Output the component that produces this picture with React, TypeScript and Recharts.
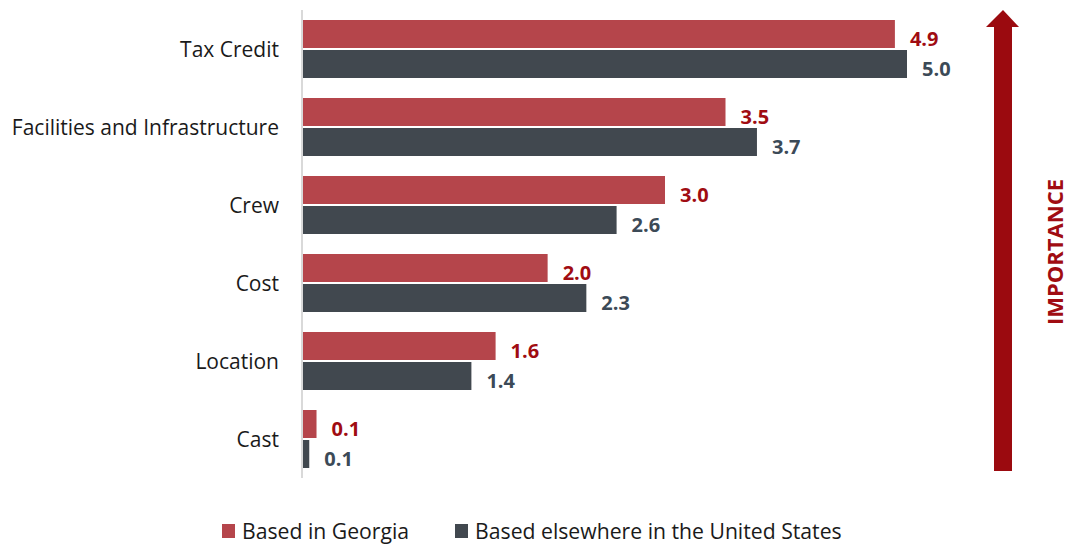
import { BarChart, Bar, XAxis, YAxis, LabelList } from "recharts";

const categories = ["Tax Credit", "Facilities and Infrastructure", "Crew", "Cost", "Location", "Cast"];
const georgia = [4.9, 3.5, 3.0, 2.03, 1.6, 0.12];
const elsewhere = [5.0, 3.76, 2.6, 2.35, 1.4, 0.06];
const georgiaLabels = ["4.9", "3.5", "3.0", "2.0", "1.6", "0.1"];
const elsewhereLabels = ["5.0", "3.7", "2.6", "2.3", "1.4", "0.1"];

const RED = "#b5454b";
const DARK = "#41484f";
const ARROW = "#9b0a0f";

const data = categories.map((name, i) => ({
  name,
  georgia: georgia[i],
  elsewhere: elsewhere[i],
  gLabel: georgiaLabels[i],
  eLabel: elsewhereLabels[i],
}));

const font = "'Open Sans', 'Noto Sans', sans-serif";

export default function App() {
  return (
    <div style={{ position: "absolute", left: 0, top: 0, width: 1068, height: 547, fontFamily: font, background: "#fff" }}>
      <BarChart
        width={1068}
        height={547}
        data={data}
        layout="vertical"
        margin={{ top: 10, right: 161, bottom: 69, left: 0 }}
        barGap={2}
        barSize={28}
      >
        <XAxis type="number" domain={[0, 5]} hide />
        <YAxis
          type="category"
          dataKey="name"
          width={302}
          tickLine={false}
          tickSize={0}
          tickMargin={23}
          axisLine={{ stroke: "#d9d9d9", strokeWidth: 2 }}
          tick={{ fontSize: 21, fill: "#1a1a1a", fontFamily: font, dy: 1 }}
          interval={0}
        />
        <Bar dataKey="georgia" fill={RED} isAnimationActive={false}>
          <LabelList
            dataKey="gLabel"
            position="right"
            offset={15}
            dy={5}
            style={{ fill: "#a00c12", fontSize: 20, fontWeight: 700, fontFamily: font }}
          />
        </Bar>
        <Bar dataKey="elsewhere" fill={DARK} isAnimationActive={false}>
          <LabelList
            dataKey="eLabel"
            position="right"
            offset={15}
            dy={5}
            style={{ fill: "#3c4a57", fontSize: 20, fontWeight: 700, fontFamily: font }}
          />
        </Bar>
      </BarChart>

      <svg width={1068} height={547} style={{ position: "absolute", left: 0, top: 0, pointerEvents: "none" }}>
        <polygon points="986,27 1019,27 1003,10" fill={ARROW} />
        <rect x={994} y={26} width={18} height={445} fill={ARROW} />
        <text
          x={1063}
          y={252}
          transform="rotate(-90 1063 252)"
          textAnchor="middle"
          fill="#a00c12"
          fontSize={22}
          fontWeight={700}
          fontFamily={font}
        >
          IMPORTANCE
        </text>
      </svg>

      <div style={{ position: "absolute", top: 516, left: 222, display: "flex", alignItems: "center", fontSize: 21.2, color: "#1a1a1a" }}>
        <span style={{ width: 13, height: 14, background: RED, display: "inline-block", marginRight: 7 }} />
        <span>Based in Georgia</span>
        <span style={{ width: 13, height: 14, background: DARK, display: "inline-block", marginLeft: 46, marginRight: 7 }} />
        <span>Based elsewhere in the United States</span>
      </div>
    </div>
  );
}
